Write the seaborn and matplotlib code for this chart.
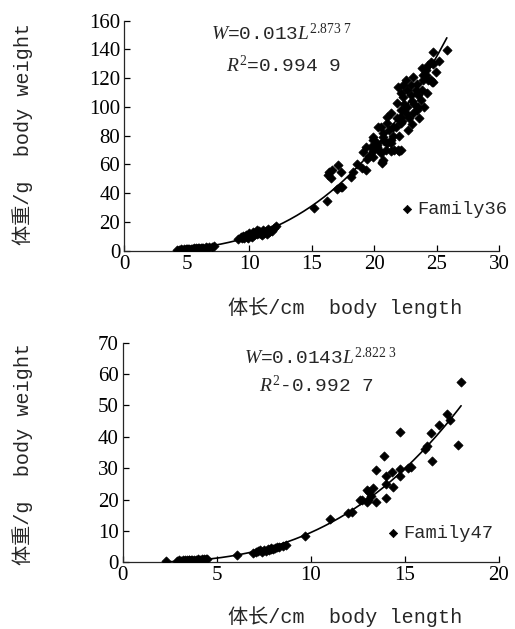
import numpy as np
import pandas as pd
import matplotlib
matplotlib.use("Agg")
import matplotlib.pyplot as plt
import seaborn as sns

# ---------------- data ----------------
fam36_L = [4.2, 4.4, 4.5, 4.6, 4.8, 4.9, 5.0, 5.1, 5.2, 5.3, 5.4, 5.5, 5.6, 5.7, 5.8, 5.9, 6.0, 6.1, 6.2, 6.3, 6.5, 6.6, 6.8, 7.0, 7.2,
           9.1, 9.3, 9.4, 9.5, 9.6, 9.7, 9.8, 9.9, 10.0, 10.1, 10.2, 10.3, 10.4, 10.5, 10.6, 10.7, 10.8, 10.9, 11.0, 11.1, 11.2, 11.3,
           11.4, 11.5, 11.6, 11.7, 11.8, 12.0, 12.1, 10.2, 10.6, 11.0, 11.4, 9.9, 10.8,
           15.2, 16.2, 16.4, 16.5, 16.6, 17.1, 17.3, 17.0, 17.4, 17.3, 18.1, 18.3, 18.6, 19.0, 19.3, 19.4, 19.1, 19.3, 19.7, 19.9, 16.3,
           19.9, 20.6, 22.0, 21.6, 20.2, 20.5, 20.6, 21.3, 21.9, 21.0,
           24.7, 25.8, 24.5, 24.3, 24.1, 24.6, 23.9, 23.8, 24.7, 24.1, 23.1, 22.3, 24.5, 23.7, 23.4, 22.9, 22.1, 21.8, 22.1, 22.1,
           21.3, 21.0, 20.5, 21.7, 20.7, 19.9, 20.2, 21.3, 22.1, 20.7, 19.9, 23.2, 22.5,
           21.9, 23.4, 23.1, 22.6, 22.1, 21.5, 21.0, 20.7, 20.2, 21.3, 20.3, 22.3, 23.9, 24.3, 24.7,
           22.8, 23.0, 22.5, 22.7, 21.5, 20.9, 22.4, 23.5, 23.3, 22.9, 23.6, 24.0, 22.0, 21.2, 23.8, 24.9, 25.2, 23.0, 22.2, 21.8,
           20.8, 20.4, 19.6, 22.6, 23.5, 24.2]
fam36_W = [0.6, 0.8, 0.9, 0.7, 1.0, 1.2, 1.1, 1.3, 1.0, 1.4, 1.5, 1.3, 1.6, 1.8, 1.5, 1.9, 2.0, 1.7, 2.2, 2.1, 2.4, 2.0, 2.7, 2.5, 3.0,
           8.0, 9.5, 8.6, 10.2, 9.1, 11.0, 9.8, 10.6, 12.0, 10.4, 11.5, 12.8, 10.9, 13.2, 11.8, 12.4, 14.0, 11.6, 13.0, 14.6, 12.2, 13.8,
           11.5, 15.0, 12.8, 14.2, 13.5, 16.0, 17.5, 9.6, 14.5, 10.8, 12.9, 8.9, 12.0,
           29.9, 34.6, 55.0, 50.4, 56.0, 59.4, 54.5, 43.0, 44.6, 44.5, 51.5, 55.0, 60.2, 57.4, 56.0, 64.0, 69.0, 72.0, 72.0, 69.5, 53.0,
           77.0, 61.2, 69.6, 70.0, 73.5, 67.7, 62.0, 69.3, 70.0, 75.0,
           138.4, 139.6, 131.5, 129.2, 122.0, 117.6, 118.7, 111.8, 130.0, 126.0, 121.0, 115.0, 118.7, 104.8, 98.0, 108.0, 109.5, 102.5, 98.0, 93.2,
           95.6, 88.6, 86.3, 86.3, 79.3, 79.3, 72.3, 74.6, 70.0, 63.0, 65.4, 102.0, 119.0,
           114.0, 116.0, 95.6, 100.0, 88.6, 86.0, 93.0, 81.7, 74.7, 77.0, 86.0, 107.0, 122.0, 118.8, 117.6,
           92.0, 88.0, 96.0, 84.0, 80.0, 70.0, 102.0, 108.0, 112.0, 115.0, 92.0, 100.0, 80.0, 84.0, 127.0, 124.0, 132.0, 104.0, 90.0, 92.0,
           76.0, 70.0, 66.0, 112.0, 100.0, 110.0]

fam47_L = [2.3, 2.9, 3.0, 3.2, 3.3, 3.4, 3.5, 3.6, 3.7, 3.8, 3.9, 4.0, 4.1, 4.2, 4.3, 4.4, 4.5, 3.1, 3.5, 4.0,
           6.1,
           6.9, 7.1, 7.2, 7.4, 7.5, 7.6, 7.7, 7.8, 7.9, 8.0, 8.1, 8.3, 8.5, 8.7, 7.3, 7.9, 8.2,
           9.7, 11.0, 12.0, 12.2, 12.6, 12.7, 13.0, 13.05, 13.0, 13.1, 13.3, 13.2, 13.45, 13.45, 13.9, 14.0, 14.0, 14.0,
           14.3, 14.4, 14.77, 14.77, 14.77, 15.2, 15.33, 16.1, 16.2, 16.4, 16.43, 16.83, 17.27, 17.4, 17.83, 17.97]
fam47_W = [0.3, 0.5, 0.6, 0.6, 0.7, 0.6, 0.8, 0.7, 0.8, 0.9, 0.8, 1.0, 0.9, 1.0, 1.1, 1.0, 1.2, 0.5, 0.7, 0.9,
           2.2,
           3.0, 3.4, 3.6, 3.3, 3.9, 3.5, 4.1, 4.0, 4.4, 4.2, 4.6, 4.8, 5.2, 5.5, 3.8, 4.5, 5.0,
           8.5, 13.7, 15.6, 16.1, 19.9, 19.9, 19.3, 19.9, 23.0, 22.5, 23.6, 21.0, 29.4, 19.3, 33.9, 27.5, 20.4, 25.0,
           28.9, 24.1, 41.6, 27.5, 29.6, 30.0, 30.5, 36.0, 37.0, 41.3, 32.2, 43.8, 47.2, 45.4, 37.4, 57.4]

fit36_a, fit36_b, fit36_range = 0.013, 2.8737, (4.3, 25.8)
fit47_a, fit47_b, fit47_range = 0.0143, 2.8223, (2.3, 18.0)

eq36 = [r"$W$=0.013$L^{2.873\ 7}$", r"$R^2$=0.994 9"]
eq47 = [r"$W$=0.0143$L^{2.822\ 3}$", r"$R^2$-0.992 7"]

x_ticks36 = [0, 5, 10, 15, 20, 25, 30]
y_ticks36 = [0, 20, 40, 60, 80, 100, 120, 140, 160]
x_ticks47 = [0, 5, 10, 15, 20]
y_ticks47 = [0, 10, 20, 30, 40, 50, 60, 70]

xlabel = "体长/cm  body length"
ylabel = "体重/g  body weight"

# ---------------- style ----------------
sns.set_style("ticks")
plt.rcParams["font.family"] = ["Liberation Serif", "Noto Sans CJK SC"]
plt.rcParams["mathtext.fontset"] = "custom"
plt.rcParams["mathtext.rm"] = "Liberation Serif"
plt.rcParams["mathtext.it"] = "Liberation Serif:italic"
plt.rcParams["axes.linewidth"] = 0.9

label_font = ["Liberation Mono", "Noto Sans CJK SC"]

fig = plt.figure(figsize=(5.15, 6.29), dpi=100)
ax1 = fig.add_axes([0.2414, 0.6014, 0.7282, 0.3657])
ax2 = fig.add_axes([0.2386, 0.1060, 0.7297, 0.3492])


def panel(ax, L, W, name, a, b, rng, eq, xt, yt, eqpos, legpos, xlab_pos, ylab_pos):
    df = pd.DataFrame({"L": L, "W": W})
    sns.scatterplot(data=df, x="L", y="W", ax=ax, marker="D", s=22, color="black",
                    edgecolor="black", linewidth=0.5, label=name, zorder=3)
    Lf = np.linspace(rng[0], rng[1], 200)
    fdf = pd.DataFrame({"L": Lf, "W": a * Lf ** b})
    sns.lineplot(data=fdf, x="L", y="W", ax=ax, color="black", linewidth=1.2, zorder=2)
    ax.set_xlim(xt[0], xt[-1])
    ax.set_ylim(yt[0], yt[-1])
    ax.set_xticks(xt)
    ax.set_yticks(yt)
    ax.tick_params(direction="in", length=4.5, width=0.9, labelsize=15, colors="black", pad=3)
    sns.despine(ax=ax)
    ax.set_xlabel(xlabel, fontsize=14.5, family=label_font)
    ax.set_ylabel(ylabel, fontsize=14.5, family=label_font)
    ax.xaxis.label.set_va("center")
    ax.yaxis.label.set_va("center")
    ax.xaxis.set_label_coords(*xlab_pos)
    ax.yaxis.set_label_coords(*ylab_pos)
    for txt, pos in zip(eq, eqpos):
        ax.text(pos[0], pos[1], txt, transform=ax.transAxes, ha="center", va="center",
                fontsize=14, family=label_font)
    leg = ax.legend(loc="center left", bbox_to_anchor=legpos, frameon=False, fontsize=13.5,
                    handletextpad=0.1, handlelength=0.8, borderpad=0, borderaxespad=0, markerscale=0.9)
    for t in leg.get_texts():
        t.set_family(label_font)


panel(ax1, fam36_L, fam36_W, "Family36", fit36_a, fit36_b, fit36_range, eq36, x_ticks36, y_ticks36,
      [(0.42, 0.946), (0.425, 0.807)], (0.735, 0.18), (0.5885, -0.249), (-0.27, 0.507))
panel(ax2, fam47_L, fam47_W, "Family47", fit47_a, fit47_b, fit47_range, eq47, x_ticks47, y_ticks47,
      [(0.524, 0.932), (0.514, 0.807)], (0.70, 0.13), (0.591, -0.249), (-0.266, 0.493))

fig.savefig("out.png", dpi=100)
